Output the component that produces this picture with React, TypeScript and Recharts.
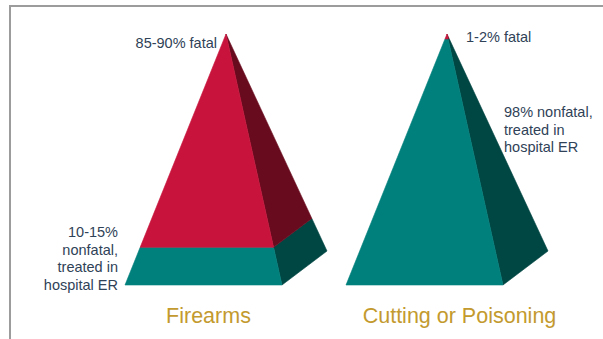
import { Bar, BarChart, LabelList, XAxis, YAxis } from "recharts";

const categories = ["Firearms", "Cutting or Poisoning"];
const nonfatalShare = [15, 98];
const fatalShare = [85, 2];
const fatalLabels = ["85-90% fatal", "1-2% fatal"];
const nonfatalLabels = [
  ["10-15%", "nonfatal,", "treated in", "hospital ER"],
  ["98% nonfatal,", "treated in", "hospital ER"],
];

const data = categories.map((name, i) => ({ name, nonfatal: nonfatalShare[i], fatal: fatalShare[i] }));

const FONT = "'Liberation Sans', Arial, sans-serif";
const TEXT_COLOR = "#2f4257";
const TITLE_COLOR = "#c39a2e";
// oblique depth of the square base (back corner minus front corner)
const DEPTH_X = 45;
const DEPTH_Y = -34;
const PLOT_TOP = 34;
const PLOT_BOTTOM = 285;

type Pt = [number, number];

function PyramidSlice(props: any) {
  const { x, y, width, height, background, front, side } = props;
  const top = background?.y ?? PLOT_TOP;
  const base = background ? background.y + background.height : PLOT_BOTTOM;
  const span = base - top;
  const apex: Pt = [x + width / 2 + DEPTH_X / 2, top];
  const fl: Pt = [x, base];
  const fr: Pt = [x + width, base];
  const br: Pt = [x + width + DEPTH_X, base + DEPTH_Y];
  const toApex = (p: Pt, t: number): Pt => [p[0] + t * (apex[0] - p[0]), p[1] + t * (apex[1] - p[1])];
  const t0 = (base - (y + height)) / span;
  const t1 = (base - y) / span;
  const pts = (arr: Pt[]) => arr.map((p) => p.join(",")).join(" ");
  const frontFace = [toApex(fl, t0), toApex(fr, t0), toApex(fr, t1), toApex(fl, t1)];
  const sideFace = [toApex(fr, t0), toApex(br, t0), toApex(br, t1), toApex(fr, t1)];
  return (
    <g>
      <polygon points={pts(sideFace)} fill={side} stroke={side} strokeWidth={0.6} />
      <polygon points={pts(frontFace)} fill={front} stroke={front} strokeWidth={0.6} />
    </g>
  );
}

const boxOf = (props: any) => {
  const vb = props.viewBox ?? {};
  return {
    x: Number(props.x ?? vb.x),
    y: Number(props.y ?? vb.y),
    width: Number(props.width ?? vb.width),
    height: Number(props.height ?? vb.height),
    index: Number(props.index ?? 0),
  };
};

const renderFatalLabel = (props: any) => {
  const { x, y, width, index } = boxOf(props);
  const apexX = x + width / 2 + DEPTH_X / 2;
  const left = index === 0;
  return (
    <text
      x={left ? apexX - 9 : apexX + 19}
      y={left ? y + 14 : y + 8}
      textAnchor={left ? "end" : "start"}
      fill={TEXT_COLOR}
      fontSize={14.5}
      fontFamily={FONT}
    >
      {fatalLabels[index]}
    </text>
  );
};

const renderNonfatalLabel = (props: any) => {
  const { x, y, width, height, index } = boxOf(props);
  const lines = nonfatalLabels[index];
  if (index === 0) {
    const baseY = y + height;
    return (
      <text x={x - 7} y={baseY + 5 - (lines.length - 1) * 17.7} textAnchor="end" fill={TEXT_COLOR} fontSize={14.5} fontFamily={FONT}>
        {lines.map((l, i) => (
          <tspan key={l} x={x - 7} dy={i === 0 ? 0 : 17.7}>
            {l}
          </tspan>
        ))}
      </text>
    );
  }
  return (
    <text x={x + width + 1} y={y + 78} textAnchor="start" fill={TEXT_COLOR} fontSize={14.5} fontFamily={FONT}>
      {lines.map((l, i) => (
        <tspan key={l} x={x + width + 1} dy={i === 0 ? 0 : 17.5}>
          {l}
        </tspan>
      ))}
    </text>
  );
};

const tickShift = [5, 35];

const CategoryTick = (props: any) => {
  const { x, y, payload, index } = props;
  return (
    <text x={x + (tickShift[index] ?? 0)} y={y + 30} textAnchor="middle" fill={TITLE_COLOR} fontSize={21.5} fontFamily={FONT}>
      {payload.value}
    </text>
  );
};

export default function App() {
  return (
    <div style={{ position: "absolute", left: 0, top: 0, width: 603, height: 339, background: "#fff" }}>
      <div
        style={{
          position: "absolute",
          left: 9,
          top: 5,
          right: 0,
          bottom: 0,
          borderTop: "2px solid #9c9c9c",
          borderLeft: "2px solid #9c9c9c",
        }}
      />
      <BarChart width={603} height={339} data={data} margin={{ top: 34, right: 68, bottom: 0, left: 93 }} style={{ position: "absolute", left: 0, top: 0 }}>
        <XAxis dataKey="name" height={54} axisLine={false} tickLine={false} interval={0} tick={<CategoryTick />} />
        <YAxis hide domain={[0, 100]} />
        <Bar
          dataKey="nonfatal"
          stackId="p"
          barSize={157}
          isAnimationActive={false}
          shape={(p: any) => <PyramidSlice {...p} front="#00807c" side="#004643" />}
        >
          <LabelList dataKey="nonfatal" content={renderNonfatalLabel} />
        </Bar>
        <Bar
          dataKey="fatal"
          stackId="p"
          barSize={157}
          isAnimationActive={false}
          shape={(p: any) => <PyramidSlice {...p} front="#c8143c" side="#690b1f" />}
        >
          <LabelList dataKey="fatal" content={renderFatalLabel} />
        </Bar>
      </BarChart>
    </div>
  );
}
